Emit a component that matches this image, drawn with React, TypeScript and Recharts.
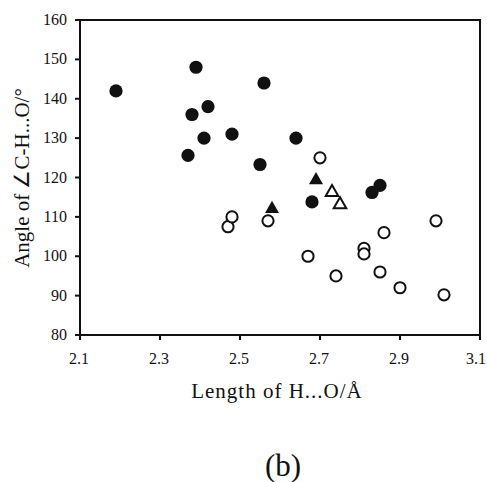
import { ScatterChart, Scatter, XAxis, YAxis, ReferenceLine } from 'recharts';

// filled circles
const filledCircles = [
  { x: 2.19, y: 142 }, { x: 2.39, y: 148 }, { x: 2.38, y: 136 }, { x: 2.42, y: 138 },
  { x: 2.41, y: 130 }, { x: 2.48, y: 131 }, { x: 2.37, y: 125.6 }, { x: 2.56, y: 144 },
  { x: 2.64, y: 130 }, { x: 2.55, y: 123.3 }, { x: 2.85, y: 118 }, { x: 2.83, y: 116.2 },
  { x: 2.68, y: 113.8 },
];
// open circles
const openCircles = [
  { x: 2.7, y: 125 }, { x: 2.47, y: 107.5 }, { x: 2.48, y: 110 }, { x: 2.57, y: 109 },
  { x: 2.67, y: 100 }, { x: 2.74, y: 95 }, { x: 2.81, y: 102 }, { x: 2.81, y: 100.6 },
  { x: 2.85, y: 96 }, { x: 2.86, y: 106 }, { x: 2.9, y: 92 }, { x: 2.99, y: 109 },
  { x: 3.01, y: 90.2 },
];
const filledTriangles = [{ x: 2.69, y: 119.6 }, { x: 2.58, y: 112.3 }];
const openTriangles = [{ x: 2.73, y: 116.5 }, { x: 2.75, y: 113.4 }];

const xTicks = [2.1, 2.3, 2.5, 2.7, 2.9, 3.1];
const yTicks = [80, 90, 100, 110, 120, 130, 140, 150, 160];

const font = '"Liberation Serif", "Times New Roman", serif';

const Dot = ({ cx, cy, filled }: any) => (
  <circle cx={cx} cy={cy} r={filled ? 6.6 : 5.6} fill={filled ? '#111' : '#fff'} stroke="#111" strokeWidth={filled ? 0 : 2} />
);

const Tri = ({ cx, cy, filled }: any) => {
  const s = filled ? 7 : 6.3;
  const pts = `${cx},${cy - s} ${cx - s},${cy + s * 0.75} ${cx + s},${cy + s * 0.75}`;
  return <polygon points={pts} fill={filled ? '#111' : '#fff'} stroke="#111" strokeWidth={filled ? 0 : 2} strokeLinejoin="miter" />;
};

const XTick = ({ x, y, payload }: any) => (
  <text x={x - 1} y={y + 22} textAnchor="middle" fontFamily={font} fontSize={16} fill="#111">
    {Number(payload.value).toFixed(1)}
  </text>
);

const YTick = ({ x, y, payload }: any) => (
  <text x={x - 6} y={y + 5} textAnchor="end" fontFamily={font} fontSize={16} fill="#111">
    {payload.value}
  </text>
);

export default function App() {
  return (
    <div style={{ position: 'absolute', left: 0, top: 0, width: 487, height: 482, background: '#fff', fontFamily: font }}>
      <ScatterChart width={487} height={482} margin={{ top: 20, right: 7, bottom: 117, left: 20 }}>
        <XAxis
          type="number"
          dataKey="x"
          domain={[2.1, 3.1]}
          ticks={xTicks}
          stroke="#111"
          strokeWidth={2}
          tickSize={5}
          height={30}
          tick={XTick}
        />
        <YAxis
          type="number"
          dataKey="y"
          domain={[80, 160]}
          ticks={yTicks}
          stroke="#111"
          strokeWidth={2}
          tickSize={5}
          width={60}
          tick={YTick}
        />
        <ReferenceLine y={160} stroke="#111" strokeWidth={2} ifOverflow="visible" />
        <ReferenceLine x={3.1} stroke="#111" strokeWidth={2} ifOverflow="visible" />
        <Scatter data={openCircles} isAnimationActive={false} shape={(p: any) => <Dot {...p} filled={false} />} />
        <Scatter data={filledCircles} isAnimationActive={false} shape={(p: any) => <Dot {...p} filled />} />
        <Scatter data={openTriangles} isAnimationActive={false} shape={(p: any) => <Tri {...p} filled={false} />} />
        <Scatter data={filledTriangles} isAnimationActive={false} shape={(p: any) => <Tri {...p} filled />} />
      </ScatterChart>
      {/* plot frame */}
      <div
        style={{
          position: 'absolute', left: 79, top: 19, width: 402, height: 317,
          border: '2px solid #111', boxSizing: 'border-box', zIndex: 5,
        }}
      />
      <div
        style={{
          position: 'absolute', left: 22 - 130, top: 178 - 12, width: 260, height: 24, lineHeight: '24px',
          textAlign: 'center', fontSize: 21, color: '#111', transform: 'rotate(-90deg)', whiteSpace: 'nowrap', zIndex: 5,
        }}
      >
        Angle of ∠C-H...O/°
      </div>
      <div
        style={{
          position: 'absolute', left: 127, width: 300, top: 379, lineHeight: '24px', textAlign: 'center',
          fontSize: 21, letterSpacing: 1, color: '#111', whiteSpace: 'nowrap', zIndex: 5,
        }}
      >
        Length of H...O/Å
      </div>
      <div
        style={{
          position: 'absolute', left: 183, width: 200, top: 448, lineHeight: '36px', textAlign: 'center',
          fontSize: 31, color: '#111', zIndex: 5,
        }}
      >
        (b)
      </div>
    </div>
  );
}
